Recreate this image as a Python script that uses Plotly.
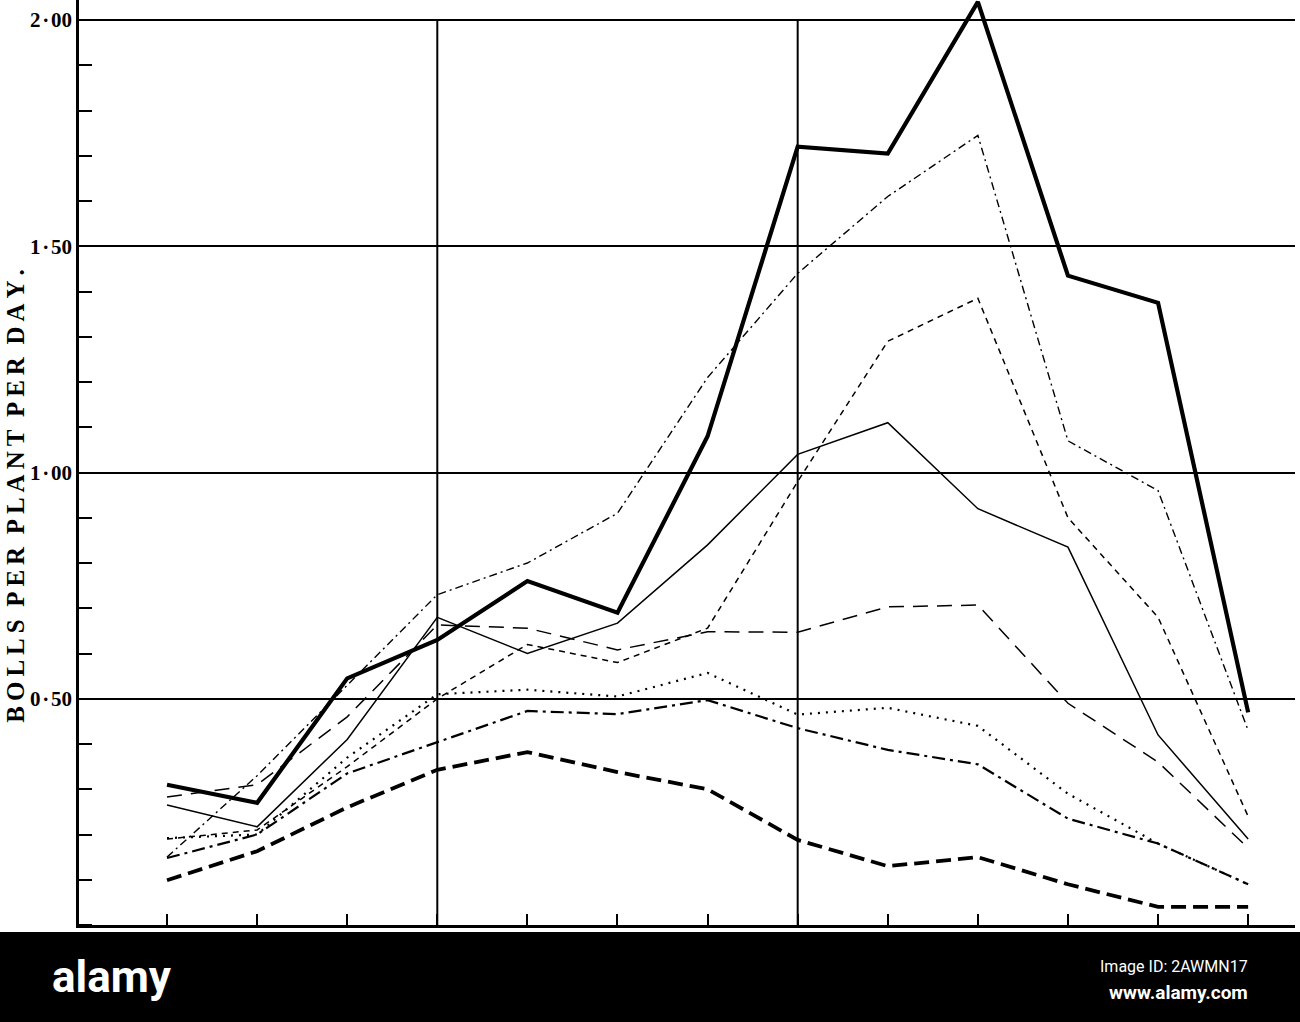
import plotly.graph_objects as go

# ---- data ----
periods = list(range(13))
heavy_solid = [0.31, 0.27, 0.545, 0.63, 0.76, 0.69, 1.08, 1.72, 1.705, 2.04, 1.435, 1.375, 0.47]
thin_solid = [0.265, 0.217, 0.41, 0.68, 0.60, 0.667, 0.84, 1.04, 1.11, 0.92, 0.835, 0.42, 0.19]
thin_dashdot = [0.15, 0.33, 0.53, 0.73, 0.80, 0.91, 1.21, 1.44, 1.61, 1.745, 1.07, 0.96, 0.43]
short_dash = [0.19, 0.21, 0.35, 0.50, 0.62, 0.58, 0.656, 0.98, 1.29, 1.385, 0.90, 0.68, 0.24]
long_dash = [0.283, 0.31, 0.46, 0.663, 0.656, 0.608, 0.648, 0.647, 0.703, 0.707, 0.49, 0.36, 0.17]
dotted = [0.192, 0.20, 0.37, 0.51, 0.52, 0.505, 0.557, 0.465, 0.48, 0.44, 0.29, 0.18, 0.09]
medium_dashdot = [0.148, 0.20, 0.335, 0.404, 0.473, 0.466, 0.497, 0.435, 0.387, 0.355, 0.235, 0.18, 0.09]
heavy_dash = [0.099, 0.163, 0.26, 0.343, 0.382, 0.338, 0.30, 0.188, 0.13, 0.15, 0.09, 0.04, 0.04]

y_tick_vals = [0.5, 1.0, 1.5, 2.0]
y_tick_text = ["0\u200a·\u200a50", "1\u200a·\u200a00", "1\u200a·\u200a50", "2\u200a·\u200a00"]
vertical_rules = [3, 7]
y_title_words = ["BOLLS", "PER", "PLANT", "PER", "DAY."]

series = [
    (heavy_dash, dict(width=3.8, dash="15px,7px")),
    (medium_dashdot, dict(width=2.2, dash="13px,5px,3px,5px")),
    (dotted, dict(width=2.2, dash="2px,6px")),
    (long_dash, dict(width=1.5, dash="15px,9px")),
    (short_dash, dict(width=1.5, dash="6px,5px")),
    (thin_dashdot, dict(width=1.4, dash="8px,4px,2px,4px")),
    (thin_solid, dict(width=1.5, dash="solid")),
    (heavy_solid, dict(width=4.2, dash="solid")),
]

fig = go.Figure()
for vals, ln in series:
    fig.add_trace(go.Scatter(x=periods, y=vals, mode="lines",
                             line=dict(color="black", **ln),
                             showlegend=False, hoverinfo="skip"))

for xv in vertical_rules:
    fig.add_shape(type="line", xref="x", yref="y", x0=xv, x1=xv, y0=0, y1=2.0,
                  line=dict(color="black", width=2), layer="below")

serif = "Liberation Serif, DejaVu Serif, serif"

fig.update_layout(
    width=1300, height=1022,
    margin=dict(l=79, r=5, t=0, b=97),
    paper_bgcolor="white", plot_bgcolor="white",
    xaxis=dict(range=[-0.977, 12.52], tickvals=periods, showticklabels=False,
               ticks="inside", ticklen=11, tickwidth=2, tickcolor="black",
               showgrid=False, zeroline=False, showline=True,
               linecolor="black", linewidth=2.5),
    yaxis=dict(range=[0, 2.0442], tickvals=y_tick_vals, ticktext=y_tick_text,
               ticks="", showgrid=True, gridcolor="black", gridwidth=2,
               zeroline=False, showline=True, linecolor="black", linewidth=2.5,
               tickfont=dict(family=serif, size=21, color="black", weight="bold"),
               minor=dict(dtick=0.1, tick0=0, ticks="inside", ticklen=13,
                          tickwidth=2, tickcolor="black", showgrid=False)),
)

# rotated axis title
title_text = "\u00a0\u00a0".join("\u2009".join(list(w)) for w in y_title_words)
fig.add_annotation(xref="paper", yref="paper", x=-0.052, y=0.4638,
                   text=title_text,
                   textangle=-90, showarrow=False, xanchor="center", yanchor="middle",
                   font=dict(family=serif, size=25, color="black", weight="bold"))

# watermark band at the bottom of the picture
fig.add_shape(type="rect", xref="paper", yref="paper",
              x0=-0.07, x1=1.01, y0=-0.1060, y1=-0.0076,
              fillcolor="black", line=dict(width=0), layer="above")
fig.add_annotation(xref="paper", yref="paper", x=(50 - 79) / 1216, y=(925 - 977) / 925,
                   text="alamy", showarrow=False, xanchor="left", yanchor="middle",
                   font=dict(family="Roboto, DejaVu Sans, sans-serif",
                             size=44, color="white", weight="bold"))
fig.add_annotation(xref="paper", yref="paper", x=(1250 - 79) / 1216, y=(925 - 966) / 925,
                   text="Image ID: 2AWMN17", showarrow=False, xanchor="right", yanchor="middle",
                   font=dict(family="Roboto, sans-serif", size=16, color="white"))
fig.add_annotation(xref="paper", yref="paper", x=(1250 - 79) / 1216, y=(925 - 993) / 925,
                   text="www.alamy.com", showarrow=False, xanchor="right", yanchor="middle",
                   font=dict(family="Roboto, sans-serif", size=19, color="white", weight="bold"))

fig.write_html("out.html", config={"displayModeBar": False},
               post_script="document.body.style.margin='0';")
